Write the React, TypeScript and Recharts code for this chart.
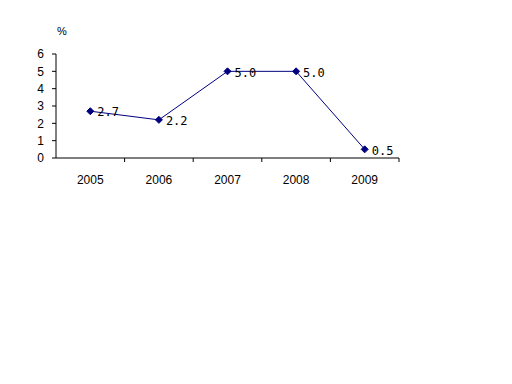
import React from 'react';
import { LineChart, Line, XAxis, YAxis, LabelList } from 'recharts';

const years = ['2005', '2006', '2007', '2008', '2009'];
const values = [2.7, 2.2, 5.0, 5.0, 0.5];
const yTicks = [0, 1, 2, 3, 4, 5, 6];

const data = years.map((y, i) => ({ year: y, v: values[i] }));

const NAVY = '#000080';

const Diamond = (props: any) => {
  const { cx, cy } = props;
  if (cx == null || cy == null) return null;
  const r = 3.5;
  return (
    <polygon
      points={`${cx},${cy - r} ${cx + r},${cy} ${cx},${cy + r} ${cx - r},${cy}`}
      fill={NAVY}
      stroke={NAVY}
    />
  );
};

const XTick = (props: any) => {
  const { x, y, payload } = props;
  const band = 343 / years.length;
  const axisY = y - 4;
  return (
    <g>
      <line x1={x + band / 2} y1={axisY} x2={x + band / 2} y2={axisY - 4} stroke="#000" />
      <text x={x} y={y + 18} textAnchor="middle" fontSize={12} fontFamily="'Liberation Sans', Arial, sans-serif" fill="#000">
        {payload.value}
      </text>
    </g>
  );
};

export default function App() {
  return (
    <div style={{ position: 'absolute', left: 0, top: 0, width: 512, height: 384, background: '#fff' }}>
      <LineChart
        width={512}
        height={384}
        data={data}
        margin={{ top: 54, right: 113, bottom: 196, left: 0 }}
      >
        <XAxis
          dataKey="year"
          scale="band"
          height={30}
          tickLine={false}
          axisLine={{ stroke: '#000' }}
          tick={<XTick />}
          interval={0}
        />
        <YAxis
          domain={[0, 6]}
          ticks={yTicks}
          width={56}
          tickSize={4}
          tickMargin={8}
          tickLine={{ stroke: '#000' }}
          axisLine={{ stroke: '#000' }}
          interval={0}
          tick={{ fontSize: 12, fill: '#000', fontFamily: "'Liberation Sans', Arial, sans-serif" }}
          label={{
            content: (p: any) => {
              const vb = p.viewBox || {};
              return (
                <text x={vb.x + vb.width + 1} y={vb.y - 19} fontSize={11} fontFamily="'Liberation Sans', Arial, sans-serif" fill="#000">
                  %
                </text>
              );
            },
          }}
        />
        <Line
          dataKey="v"
          stroke={NAVY}
          strokeWidth={1}
          dot={<Diamond />}
          activeDot={false}
          isAnimationActive={false}
        >
          <LabelList
            dataKey="v"
            position="right"
            offset={7}
            dy={1}
            formatter={(v: any) => Number(v).toFixed(1)}
            style={{ fontSize: 12, fontFamily: "'DejaVu Sans Mono', monospace", fill: '#000' }}
          />
        </Line>
      </LineChart>
    </div>
  );
}
